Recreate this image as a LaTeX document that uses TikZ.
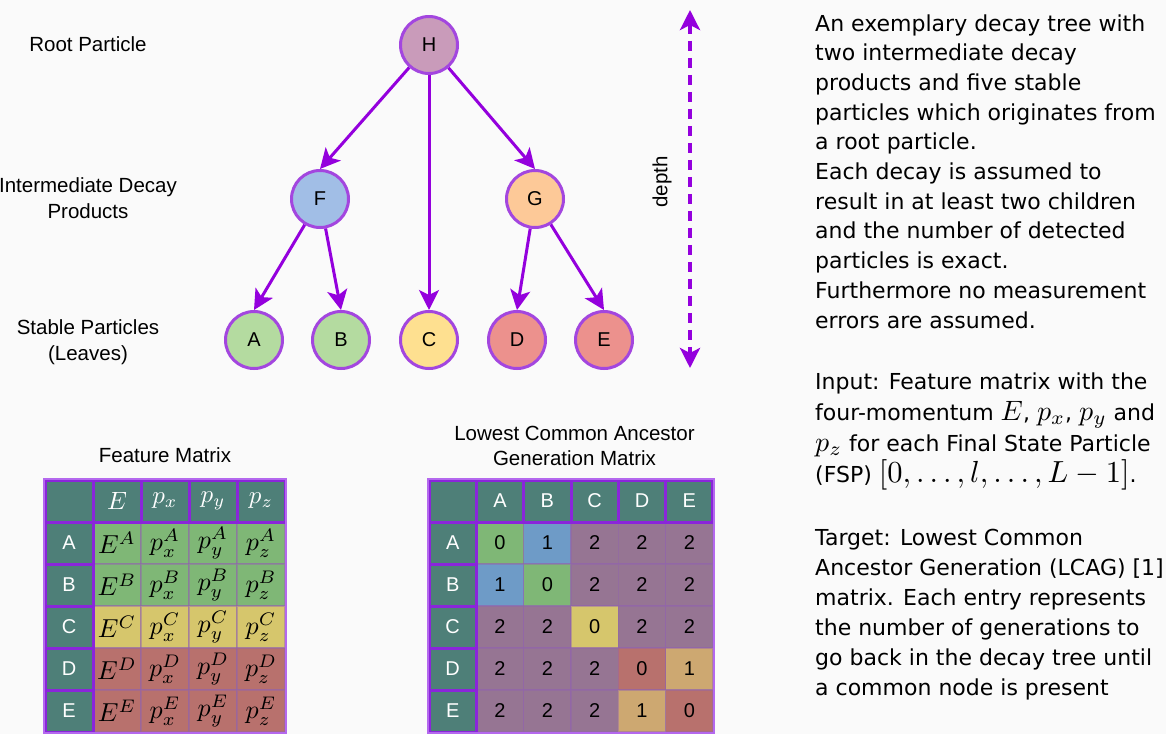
\RequirePackage{fix-cm}
\documentclass[tikz,border=0pt]{standalone}
\usepackage{graphicx}
\usepackage{fontspec}
\setmainfont{Liberation Sans}
\newfontfamily\dejavu{DejaVu Sans}
\usetikzlibrary{arrows.meta}
\newcommand\mth[2][2.6]{\scalebox{#1}{\fontsize{10}{12}\selectfont$#2$}}
\definecolor{bg}{HTML}{FAFAFA}
\definecolor{arr}{HTML}{9400DD}
\definecolor{nodeb}{HTML}{A346DF}
\definecolor{cH}{HTML}{C99BBA}
\definecolor{cF}{HTML}{A1BEE6}
\definecolor{cG}{HTML}{FDC998}
\definecolor{cAB}{HTML}{B4DBA0}
\definecolor{cC}{HTML}{FEE090}
\definecolor{cDE}{HTML}{EC918D}
\definecolor{tealc}{HTML}{4E7F78}
\definecolor{hdrb}{HTML}{8A25DA}
\definecolor{outb}{HTML}{B468EE}
\definecolor{mgreen}{HTML}{7FB776}
\definecolor{myellow}{HTML}{D6C66C}
\definecolor{mred}{HTML}{B8716D}
\definecolor{mblue}{HTML}{6E9BC7}
\definecolor{mmauve}{HTML}{967593}
\definecolor{mtan}{HTML}{CDA871}
\tikzset{
  lbl/.style={font=\fontsize{20.5}{26}\selectfont, align=center, inner sep=0pt},
  pnode/.style={circle, draw=nodeb, line width=3pt, minimum size=57pt, inner sep=0pt, font=\fontsize{20}{24}\selectfont},
  parr/.style={draw=arr, line width=3pt, -{Stealth[length=20pt,width=20pt,inset=5pt]}},
  hdr/.style={rectangle, fill=tealc, draw=hdrb, line width=3pt, minimum width=48pt, minimum height=42pt, inner sep=0pt, text=white, font=\fontsize{20}{24}\selectfont},
  dcell/.style={rectangle, draw=nodeb!50!gray, draw opacity=0.45, line width=1.5pt, minimum width=48pt, minimum height=42pt, inner sep=0pt, font=\fontsize{20}{24}\selectfont},
  rtext/.style={font=\dejavu\fontsize{22}{29.7}\selectfont, align=left, inner sep=0pt, anchor=base west}
}
\begin{document}
\begin{tikzpicture}[x=1pt,y=-1pt]
\useasboundingbox (0,0) rectangle (1166,734);
\fill[bg] (0,0) rectangle (1166,734);
\clip (0,0) rectangle (1166,734);

% left labels
\node[lbl, anchor=base] (lroot) at (88,51) {Root Particle};
\node[lbl, anchor=base] (linter) at (88,218) {Intermediate Decay\\Products};
\node[lbl, anchor=base] (lstable) at (88,360) {Stable Particles\\(Leaves)};

% tree
\node[pnode, fill=cH] (H) at (429,45) {H};
\node[pnode, fill=cF] (F) at (320,199) {F};
\node[pnode, fill=cG] (G) at (535,199) {G};
\node[pnode, fill=cAB] (A) at (254,340) {A};
\node[pnode, fill=cAB] (B) at (341,340) {B};
\node[pnode, fill=cC] (C) at (429,340) {C};
\node[pnode, fill=cDE] (D) at (517,340) {D};
\node[pnode, fill=cDE] (E) at (604,340) {E};
\draw[parr] (H) -- (F.north);
\draw[parr] (H) -- (C.north);
\draw[parr] (H) -- (G.north);
\draw[parr] (F) -- (A.north);
\draw[parr] (F) -- (B.north);
\draw[parr] (G) -- (D.north);
\draw[parr] (G) -- (E.north);

% depth arrow
\coordinate (dtop) at (690,10);
\coordinate (dbot) at (690,368);
\draw[draw=arr, line width=4pt, dash pattern=on 10pt off 7pt, {Stealth[length=20pt,width=20pt,inset=5pt]}-{Stealth[length=20pt,width=20pt,inset=5pt]}] (dtop) -- (dbot);
\node[lbl, rotate=90] (depthlbl) at (662,182) {depth};

% right text
\node[rtext] (desc) at (815,328) {An exemplary decay tree with\\two intermediate decay\\products and five stable\\particles which originates from\\a root particle.\\Each decay is assumed to\\result in at least two children\\and the number of detected\\particles is exact.\\Furthermore no measurement\\errors are assumed.};
\node[rtext, font=\dejavu\fontsize{22}{31}\selectfont] (inp) at (815,482) {Input: Feature matrix with the\\four-momentum \mth[2.8]{E}, \mth[2.8]{p_x}, \mth[2.8]{p_y} and\\\mth[2.8]{p_z} for each Final State Particle\\(FSP) \mth[3.05]{[0,\ldots,l,\ldots,L-1]}.};
\node[rtext, font=\dejavu\fontsize{22}{30}\selectfont] (tgt) at (815,695) {Target: Lowest Common\\Ancestor Generation (LCAG) [1]\\matrix. Each entry represents\\the number of generations to\\go back in the decay tree until\\a common node is present};

% Feature matrix
\node[lbl, anchor=base] (fmtitle) at (165,462) {Feature Matrix};
\foreach \r/\col [count=\j] in {A/mgreen,B/mgreen,C/myellow,D/mred,E/mred} {
  \node[dcell, fill=\col] (f\j-1) at (117,{501+42*\j}) {\mth{E^{\r}}};
  \node[dcell, fill=\col] (f\j-2) at (165,{501+42*\j}) {\mth{p_x^{\r}}};
  \node[dcell, fill=\col] (f\j-3) at (213,{501+42*\j}) {\mth{p_y^{\r}}};
  \node[dcell, fill=\col] (f\j-4) at (261,{501+42*\j}) {\mth{p_z^{\r}}};
}
\node[hdr] (fc) at (69,501) {};
\foreach \lab [count=\i] in {E,p_x,p_y,p_z}
  \node[hdr] (fh\i) at ({69+48*\i},501) {\mth[2.5]{\lab}};
\foreach \r [count=\j] in {A,B,C,D,E}
  \node[hdr] (fr\j) at (69,{501+42*\j}) {\r};
\draw[outb, line width=2pt] (fc.north west) rectangle (f5-4.south east);

% LCAG matrix
\node[lbl, anchor=base, font=\fontsize{20.5}{25}\selectfont] (lctitle) at (574.5,465) {Lowest Common Ancestor\\Generation Matrix};
\foreach \r/\cells [count=\j] in {A/{mgreen/0,mblue/1,mmauve/2,mmauve/2,mmauve/2},B/{mblue/1,mgreen/0,mmauve/2,mmauve/2,mmauve/2},C/{mmauve/2,mmauve/2,myellow/0,mmauve/2,mmauve/2},D/{mmauve/2,mmauve/2,mmauve/2,mred/0,mtan/1},E/{mmauve/2,mmauve/2,mmauve/2,mtan/1,mred/0}} {
  \foreach \cc/\v [count=\i] in \cells {
    \node[dcell, minimum width=47.33pt, fill=\cc] (l\j-\i) at ({452.67+47.33*\i},{501+42*\j}) {\v};
  }
}
\node[hdr, minimum width=47.33pt] (lc) at (452.67,501) {};
\foreach \c [count=\i] in {A,B,C,D,E}
  \node[hdr, minimum width=47.33pt] (lh\i) at ({452.67+47.33*\i},501) {\c};
\foreach \r [count=\j] in {A,B,C,D,E}
  \node[hdr, minimum width=47.33pt] (lr\j) at (452.67,{501+42*\j}) {\r};
\draw[outb, line width=2pt] (lc.north west) rectangle (l5-5.south east);
\end{tikzpicture}
\end{document}
